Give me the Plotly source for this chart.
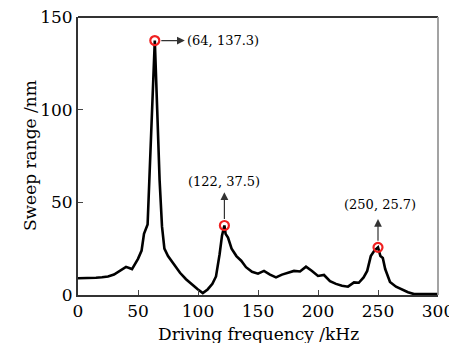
import plotly.graph_objects as go

freq = [0, 5, 10, 15, 20, 25, 30, 35, 40, 45, 50, 53, 55, 58, 60, 62, 64, 66, 68, 70, 72, 75, 80, 85, 90, 95,
        100, 104, 108, 112, 115, 118, 120, 122, 123, 125, 128, 132, 136, 140, 145, 150, 155, 160, 165, 170,
        175, 180, 185, 190, 195, 200, 205, 210, 215, 220, 225, 230, 234, 238, 241, 244, 247, 250, 252, 254,
        256, 258, 260, 265, 270, 275, 280, 290, 300]
sweep = [9, 9, 9, 9.3, 9.6, 10, 11, 13, 15.2, 14, 19.5, 24, 33, 38, 70, 105, 137.3, 100, 62, 37, 25, 21,
         16.5, 12, 8.5, 5.5, 3, 1, 3, 6, 10, 22, 32, 37.5, 33, 31, 25, 21, 18.5, 15, 12.5, 11.5, 13, 11,
         9.5, 11, 12, 13, 12.7, 15.3, 13, 10.3, 10.8, 7.5, 6, 5, 4.5, 6.8, 6.6, 9.5, 13, 21, 24, 25.7, 21,
         20, 14, 10, 7, 4.5, 3, 1.5, 0.5, 0.5, 0.5]

peak_f = [64, 122, 250]
peak_v = [137.3, 37.5, 25.7]
peak_labels = ["(64, 137.3)", "(122, 37.5)", "(250, 25.7)"]

x_title = "Driving frequency /kHz"
y_title = "Sweep range /nm"

FONT = "DejaVu Serif"

fig = go.Figure()
fig.add_trace(go.Scatter(x=freq, y=sweep, mode="lines",
                         line=dict(color="black", width=2.6), showlegend=False))
fig.add_trace(go.Scatter(x=peak_f, y=peak_v, mode="markers",
                         marker=dict(symbol="circle-open", size=9, color="#f02020",
                                     line=dict(width=2.2, color="#f02020")),
                         showlegend=False))

# arrows (tail at peak, head toward label)
arrow_tips = [(89, 137.3), (122, 55.5), (250, 41)]
label_pos = [(89.5, 137.3, "left", "middle"), (122, 61, "center", "middle"), (252, 49, "center", "middle")]
for (fx, vy), (tx, ty) in zip(zip(peak_f, peak_v), arrow_tips):
    fig.add_annotation(x=tx, y=ty, ax=fx, ay=vy, xref="x", yref="y", axref="x", ayref="y",
                       text="", showarrow=True, arrowhead=2, arrowsize=1.3, arrowwidth=1.2,
                       arrowcolor="#333333", startstandoff=5)
for (lx, ly, xa, ya), txt in zip(label_pos, peak_labels):
    fig.add_annotation(x=lx, y=ly, xref="x", yref="y", text=txt, showarrow=False,
                       xanchor=xa, yanchor=ya, font=dict(family=FONT, size=13, color="black"))

# axis titles
fig.add_annotation(x=0.5, y=-0.14, xref="paper", yref="paper", text=x_title, showarrow=False,
                   xanchor="center", yanchor="middle", font=dict(family=FONT, size=17, color="black"))
fig.add_annotation(x=-0.133, y=0.5, xref="paper", yref="paper", text=y_title, showarrow=False,
                   textangle=-90, xanchor="center", yanchor="middle",
                   font=dict(family=FONT, size=17, color="black"))

# frame: dark top edge, light right edge
fig.add_shape(type="line", xref="paper", yref="paper", x0=0, x1=1, y0=1, y1=1, layer="above",
              line=dict(color="#333333", width=1.8))
fig.add_shape(type="line", xref="paper", yref="paper", x0=1, x1=1, y0=0, y1=1, layer="above",
              line=dict(color="#999999", width=1.8))

# page body has an 8px margin, so the figure is placed 8px in from the window corner
fig.update_layout(
    width=449, height=335,
    margin=dict(l=70, r=19, t=9, b=48, autoexpand=False),
    paper_bgcolor="white", plot_bgcolor="white",
    font=dict(family=FONT, color="black"),
    xaxis=dict(range=[0, 300], tickvals=[0, 50, 100, 150, 200, 250, 300],
               ticks="inside", ticklen=5, tickwidth=1.3, tickcolor="#444444", showgrid=False, zeroline=False,
               showline=True, linecolor="#333333", linewidth=1.8, automargin=False, layer="above traces",
               ticklabeloverflow="allow", tickfont=dict(family=FONT, size=17)),
    yaxis=dict(range=[0, 150], tickvals=[0, 50, 100, 150], automargin=False, layer="above traces",
               ticks="inside", ticklen=5, tickwidth=1.3, tickcolor="#444444", showgrid=False, zeroline=False,
               showline=True, linecolor="#333333", linewidth=1.8,
               ticklabeloverflow="allow", tickfont=dict(family=FONT, size=17)),
)

fig.write_html("out.html")
